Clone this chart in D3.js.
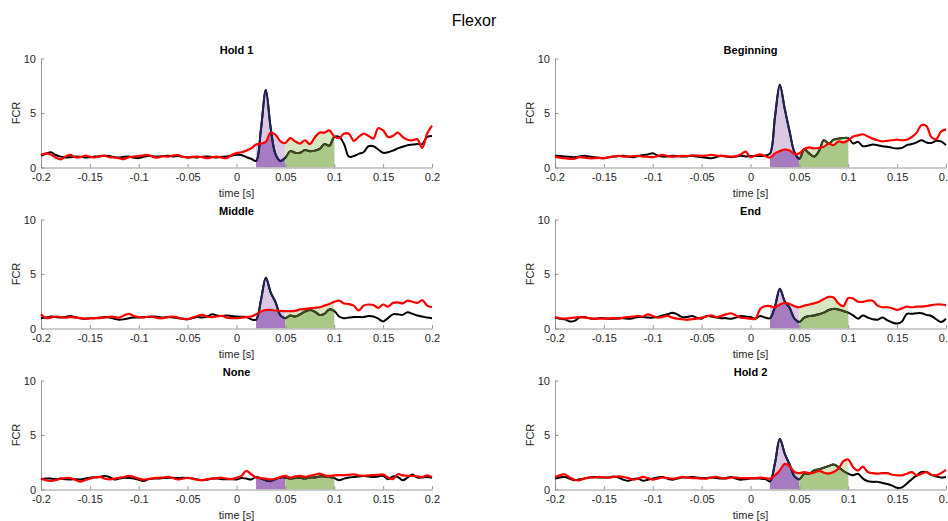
<!DOCTYPE html>
<html><head><meta charset="utf-8">
<script src="https://cdn.jsdelivr.net/npm/d3@7"></script>
<style>
html,body{margin:0;padding:0;background:#fff;}
svg{display:block;font-family:"Liberation Sans",Arial,sans-serif;}
</style></head>
<body>
<svg id="chart" width="948" height="521"></svg>
<script>
// ---------- DATA ----------
const time = [-0.2,-0.195,-0.19,-0.185,-0.18,-0.175,-0.17,-0.165,-0.16,-0.155,-0.15,-0.145,-0.14,-0.135,-0.13,-0.125,-0.12,-0.115,-0.11,-0.105,-0.1,-0.095,-0.09,-0.085,-0.08,-0.075,-0.07,-0.065,-0.06,-0.055,-0.05,-0.045,-0.04,-0.035,-0.03,-0.025,-0.02,-0.015,-0.01,-0.005,0,0.005,0.01,0.015,0.02,0.025,0.03,0.035,0.04,0.045,0.05,0.055,0.06,0.065,0.07,0.075,0.08,0.085,0.09,0.095,0.1,0.105,0.11,0.115,0.12,0.125,0.13,0.135,0.14,0.145,0.15,0.155,0.16,0.165,0.17,0.175,0.18,0.185,0.19,0.195,0.2];

const hold1Black = [1.08,1.25,1.4,1.15,1.0,0.92,0.95,1.0,0.98,0.92,0.95,1.0,1.02,1.08,1.05,0.95,0.92,0.98,1.0,0.9,0.86,0.98,1.08,1.02,1.0,1.05,1.08,1.02,1.05,0.98,0.92,0.95,0.92,0.98,1.0,0.96,0.92,0.98,1.02,1.1,1.17,
  1.15,0.95,0.8,0.6,3.5,7.1,3.6,1.2,0.6,0.9,1.5,1.35,1.35,1.6,1.5,1.55,1.7,2.15,2.0,2.8,2.8,2.15,1.0,1.05,1.25,1.4,1.95,1.95,1.65,1.35,1.4,1.55,1.75,1.9,2.05,2.1,2.15,2.15,2.8,2.9];
const hold1Red = [1.14,1.3,1.2,0.92,0.75,1.0,1.15,0.95,0.95,1.08,1.0,0.92,1.05,1.08,0.95,0.92,0.85,0.77,0.95,1.0,1.05,1.12,1.15,0.95,0.92,1.05,1.0,1.1,1.14,1.0,0.92,0.98,1.0,0.95,0.86,0.95,1.0,0.9,0.86,1.15,1.32,
  1.4,1.55,1.75,2.1,2.2,2.35,3.2,3.0,2.4,2.25,2.7,2.4,2.2,2.5,2.15,2.75,3.2,3.2,3.4,2.85,2.7,3.1,3.1,2.45,2.8,3.1,2.9,2.65,3.6,3.4,2.8,2.9,3.2,2.8,2.55,2.5,2.6,1.8,3.1,3.85];

const beginningBlack = [1.07,1.05,1.0,0.98,0.95,1.02,1.07,1.0,0.95,0.9,0.85,0.95,1.0,1.05,1.07,1.0,0.95,1.05,1.15,1.2,1.3,1.1,1.0,1.02,1.07,1.05,1.0,1.02,1.07,1.0,0.95,0.9,0.85,0.95,1.07,1.0,0.95,1.0,1.07,1.02,1.05,
  1.05,1.05,1.1,1.3,4.6,7.6,5.4,3.3,1.4,0.8,1.65,1.3,1.0,1.5,2.5,2.2,2.55,2.65,2.7,2.7,2.2,2.35,1.95,2.0,2.1,2.05,1.95,1.9,1.8,1.75,1.8,2.05,2.15,2.3,2.5,2.3,2.25,2.45,2.4,2.05];
const beginningRed = [1.0,0.9,0.85,0.8,0.82,0.95,0.9,0.85,0.85,0.88,0.85,0.95,1.0,1.07,1.0,1.0,1.05,1.07,1.0,0.98,0.95,1.05,1.15,1.05,1.0,1.02,1.07,1.05,1.1,1.1,1.07,1.1,1.15,1.1,1.07,1.05,1.0,1.05,1.2,1.45,0.95,
  1.1,1.2,1.05,0.9,1.3,1.5,1.65,1.55,1.25,1.3,1.7,1.85,1.75,1.8,1.9,2.2,2.05,2.4,2.3,2.5,2.85,2.95,3.05,2.85,2.65,2.5,2.4,2.45,2.5,2.55,2.5,2.55,2.8,3.2,3.9,3.8,2.8,2.6,3.3,3.5];

const middleBlack = [0.95,1.0,1.1,1.05,1.0,1.05,1.15,1.05,0.95,0.9,0.95,0.95,1.0,1.05,1.0,0.9,0.8,0.85,0.95,1.0,1.0,1.05,1.05,1.1,1.05,1.0,1.05,1.0,0.95,0.9,0.85,0.95,1.05,1.0,1.1,1.3,1.2,1.15,1.2,1.15,1.1,
  1.08,1.05,0.85,0.8,2.6,4.65,3.3,2.4,1.2,0.95,1.2,1.1,1.3,1.55,1.7,1.55,1.25,1.35,1.75,1.6,1.1,0.95,1.0,1.05,1.05,1.05,1.15,1.1,0.9,0.65,0.95,1.3,1.3,1.25,1.5,1.35,1.2,1.1,1.0,0.95];
const middleRed = [1.3,0.95,1.0,1.1,1.05,1.0,1.05,1.0,0.95,0.9,0.92,0.95,0.95,1.0,1.08,1.05,1.0,1.2,1.35,1.15,1.05,1.0,1.1,1.05,0.95,0.95,1.05,1.1,1.0,0.9,0.85,1.0,1.15,1.25,1.1,1.05,1.1,1.15,1.0,0.95,0.95,
  1.0,1.05,1.1,1.3,1.55,1.7,1.7,1.65,1.62,1.6,1.6,1.62,1.75,1.8,1.85,1.9,1.95,2.1,2.25,2.45,2.55,2.3,2.25,2.1,1.65,2.1,2.2,2.15,1.9,2.2,2.0,2.35,2.4,2.3,2.55,2.45,2.35,2.6,2.1,1.95];

const endBlack = [1.0,0.9,0.85,0.65,0.7,1.0,1.05,0.95,0.9,0.95,0.95,0.9,0.9,0.95,0.95,0.9,0.95,1.05,1.05,1.0,1.0,1.05,1.2,1.3,1.45,1.3,1.05,1.05,1.15,1.0,0.9,1.15,1.1,1.0,0.95,0.95,0.9,1.0,1.15,1.1,1.05,
  0.9,1.15,1.0,0.95,2.0,3.65,2.5,1.9,0.9,0.6,1.0,1.15,1.2,1.3,1.45,1.7,1.8,1.75,1.6,1.45,1.2,0.9,1.2,1.0,0.85,0.8,1.0,0.75,0.55,0.45,0.65,1.35,1.35,1.4,1.4,1.25,1.15,0.85,0.6,0.9];
const endRed = [1.05,0.95,0.9,0.95,1.0,1.05,1.0,0.95,0.9,0.9,0.9,0.92,0.95,0.9,1.0,1.05,1.1,1.15,1.1,1.3,1.15,1.0,1.05,1.15,1.0,0.9,0.85,0.8,0.85,0.9,1.0,1.1,1.2,1.05,1.15,1.3,1.4,1.2,1.0,0.95,0.9,
  0.9,1.8,2.05,2.05,1.95,2.2,2.35,2.25,2.05,1.95,2.1,2.2,2.3,2.45,2.7,2.9,2.85,2.3,2.05,2.8,2.75,2.45,2.45,2.55,2.55,2.1,1.95,1.95,1.85,1.7,1.85,2.0,1.95,2.0,2.0,2.05,2.15,2.2,2.2,2.15];

const noneBlack = [0.92,1.0,1.0,0.95,1.0,0.95,0.92,0.95,0.92,1.0,1.08,1.12,1.15,1.25,1.15,0.92,1.0,1.08,1.05,1.0,0.9,0.77,0.95,1.0,1.0,1.05,1.08,1.08,1.05,1.08,1.05,1.0,0.92,0.85,0.9,1.0,1.0,0.95,0.95,0.95,0.92,
  1.05,1.0,0.92,1.15,1.0,0.85,0.77,0.95,1.1,1.1,1.0,1.05,1.08,1.0,1.1,1.1,1.2,1.2,1.15,1.05,0.85,1.0,1.1,1.15,1.2,1.25,1.2,1.15,1.2,1.25,0.95,1.2,1.15,0.85,1.1,1.38,1.1,1.1,1.15,1.08];
const noneRed = [1.0,0.85,0.8,0.85,1.0,1.05,1.05,0.9,0.72,0.85,1.0,1.1,1.15,1.0,0.92,1.0,1.08,1.15,1.25,1.15,1.0,0.9,0.95,1.05,1.08,1.1,1.15,1.05,0.92,1.0,1.08,1.0,0.9,0.85,0.95,1.0,1.05,1.08,1.0,0.95,1.08,
  1.25,1.7,1.4,1.1,1.05,1.0,0.92,1.0,1.15,1.25,1.1,1.2,1.25,1.15,1.25,1.35,1.45,1.3,1.25,1.3,1.32,1.32,1.35,1.38,1.3,1.25,1.3,1.32,1.35,1.38,1.1,0.95,1.4,1.3,1.25,1.25,1.2,1.15,1.3,1.15];

const hold2Black = [1.0,1.1,1.15,1.0,0.85,0.95,1.0,1.1,1.15,1.1,1.1,1.1,1.2,1.1,0.9,0.8,0.95,1.0,0.8,0.9,1.0,1.1,1.15,1.0,0.9,1.0,1.1,1.1,1.15,1.1,1.05,1.05,1.1,1.05,1.0,1.05,1.15,1.0,0.9,0.95,1.0,
  1.0,1.0,0.95,0.75,2.4,4.65,3.3,2.3,1.2,0.95,1.45,1.45,1.75,1.85,2.0,2.15,2.3,2.05,1.7,1.45,1.3,1.45,1.0,0.75,0.7,0.7,0.6,0.5,0.35,0.15,0.2,0.55,0.95,1.3,1.6,1.6,1.35,1.2,1.1,1.15];
const hold2Red = [1.15,1.3,1.4,1.1,0.9,0.85,1.0,1.1,1.1,1.15,1.1,1.1,1.15,1.2,1.15,1.05,0.9,1.0,1.15,1.05,0.9,1.0,1.1,1.05,1.0,1.05,1.15,1.1,1.05,1.05,1.0,1.0,1.1,1.15,1.05,1.0,1.1,1.1,1.05,1.05,1.05,
  1.05,1.1,1.05,1.0,1.3,1.75,2.35,2.15,1.6,1.5,1.6,1.5,1.55,1.7,1.55,1.45,1.6,1.9,2.6,2.75,2.05,1.75,2.1,1.6,1.5,1.45,1.5,1.5,1.35,1.3,1.3,1.45,1.6,1.3,1.45,1.6,1.35,1.3,1.5,1.8];

const panelTitles = ["Hold 1", "Beginning", "Middle", "End", "None", "Hold 2"];
const blackSeries = [hold1Black, beginningBlack, middleBlack, endBlack, noneBlack, hold2Black];
const redSeries = [hold1Red, beginningRed, middleRed, endRed, noneRed, hold2Red];
const xTicks = [-0.2, -0.15, -0.1, -0.05, 0, 0.05, 0.1, 0.15, 0.2];
const yTicks = [0, 5, 10];
const purpleWindow = [0.02, 0.05];
const greenWindow = [0.05, 0.1];
const figureTitle = "Flexor";
const xLabel = "time [s]";
const yLabel = "FCR";

// ---------- LAYOUT ----------
const svg = d3.select("#chart");
const defs = svg.append("defs");
const colLeft = [41, 555];
const plotW = 391;
const rowTop = [58.5, 219.5, 380.5];
const plotH = 109;

const col = {
  lightPurple: "#dbc9e4", darkPurple: "#a67bc0",
  lightGreen: "#d7e7c3", darkGreen: "#aac887",
  navy: "#1f2455", olive: "#3b4820",
  axis: "#7f7f7f", text: "#262626"
};

svg.append("text").attr("x", 474).attr("y", 26).attr("text-anchor", "middle")
  .attr("font-size", 16).attr("fill", "#000").text(figureTitle);

panelTitles.forEach((title, i) => {
  const r = Math.floor(i / 2), c = i % 2;
  const x0 = colLeft[c], y0 = rowTop[r];
  const g = svg.append("g").attr("transform", `translate(${x0},${y0})`);
  const x = d3.scaleLinear().domain([-0.2, 0.2]).range([0, plotW]);
  const y = d3.scaleLinear().domain([0, 10]).range([plotH, 0]);
  const blk = blackSeries[i], red = redSeries[i];
  const curve = d3.curveCatmullRom.alpha(0.5);
  const line = d3.line().x((d, k) => x(time[k])).y(d => y(d)).curve(curve);
  const area = d3.area().x((d, k) => x(time[k])).y0(y(0)).y1(d => y(d)).curve(curve);

  const id = "p" + i;
  const wins = [["pw", purpleWindow, col.lightPurple, col.darkPurple, col.navy],
                ["gw", greenWindow, col.lightGreen, col.darkGreen, col.olive]];
  wins.forEach(([k, w]) => {
    defs.append("clipPath").attr("id", id + k).append("rect")
      .attr("x", x(w[0])).attr("y", -5).attr("width", x(w[1]) - x(w[0])).attr("height", plotH + 5);
  });
  defs.append("clipPath").attr("id", id + "redArea").append("path").attr("d", area(red));

  // fills: union light, intersection dark
  wins.forEach(([k, w, light, dark]) => {
    const fg = g.append("g").attr("clip-path", `url(#${id + k})`);
    fg.append("path").attr("d", area(blk)).attr("fill", light);
    fg.append("path").attr("d", area(red)).attr("fill", light);
    fg.append("path").attr("d", area(blk)).attr("fill", dark).attr("clip-path", `url(#${id}redArea)`);
  });

  // axes
  const xAxis = d3.axisBottom(x).tickValues(xTicks).tickSizeInner(-3.5).tickSizeOuter(0)
    .tickPadding(6).tickFormat(d => String(d));
  const yAxis = d3.axisLeft(y).tickValues(yTicks).tickSizeInner(-3.5).tickSizeOuter(0)
    .tickPadding(5).tickFormat(d => String(d));
  const gx = g.append("g").attr("transform", `translate(0,${plotH})`).call(xAxis);
  const gy = g.append("g").call(yAxis);
  [gx, gy].forEach(a => {
    a.selectAll("path,line").attr("stroke", col.axis).attr("stroke-width", 0.8);
    a.selectAll("text").attr("fill", col.text).attr("font-size", 11)
      .attr("font-family", '"Liberation Sans",Arial,sans-serif');
  });

  // lines
  g.append("path").attr("d", line(blk)).attr("fill", "none").attr("stroke", "#000").attr("stroke-width", 2);
  wins.forEach(([k, w, light, dark, lc]) => {
    g.append("path").attr("d", line(blk)).attr("fill", "none").attr("stroke", lc)
      .attr("stroke-width", 2).attr("clip-path", `url(#${id + k})`);
  });
  g.append("path").attr("d", line(red)).attr("fill", "none").attr("stroke", "#ff0000").attr("stroke-width", 2.2);

  // labels
  g.append("text").attr("x", plotW / 2).attr("y", -4.5).attr("text-anchor", "middle")
    .attr("font-size", 11).attr("font-weight", "bold").attr("fill", "#000").text(title);
  g.append("text").attr("x", plotW / 2).attr("y", plotH + 29).attr("text-anchor", "middle")
    .attr("font-size", 11).attr("fill", col.text).text(xLabel);
  g.append("text").attr("transform", `translate(-21,${plotH / 2}) rotate(-90)`).attr("text-anchor", "middle")
    .attr("font-size", 11).attr("fill", col.text).text(yLabel);
});
</script>
</body></html>
